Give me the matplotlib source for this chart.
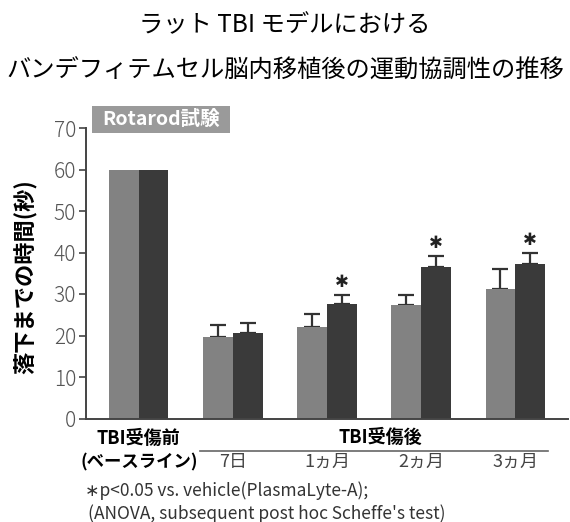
import matplotlib
matplotlib.use("Agg")
import matplotlib.pyplot as plt
from matplotlib.patches import Rectangle
import numpy as np

plt.rcParams['font.family'] = ['Noto Sans CJK JP', 'DejaVu Sans']

groups = ["TBI受傷前\n(ベースライン)", "7日", "1ヵ月", "2ヵ月", "3ヵ月"]
vehicle = [60.0, 19.7, 22.0, 27.4, 31.2]
vehicle_err = [0, 2.8, 3.3, 2.3, 4.8]
treated = [60.0, 20.5, 27.7, 36.6, 37.3]
treated_err = [0, 2.6, 2.1, 2.6, 2.7]
significant = [False, False, True, True, True]
yticks = [0, 10, 20, 30, 40, 50, 60, 70]

W, H = 570, 522
fig = plt.figure(figsize=(W/100, H/100), dpi=100)
ax = fig.add_axes([86/W, 1-418.5/H, 482/W, (418.5-128)/H])

x = np.arange(len(groups))
bw = 0.315
light = "#828282"
dark = "#3a3a3a"
ax.bar(x - bw/2, vehicle, bw, color=light, zorder=2)
ax.bar(x + bw/2, treated, bw, color=dark, zorder=2)
for i in range(len(groups)):
    if vehicle_err[i] > 0:
        ax.errorbar(x[i] - bw/2, vehicle[i], yerr=[[0], [vehicle_err[i]]], fmt='none',
                    ecolor="#333333", elinewidth=1.6, capsize=5.8, capthick=1.6, zorder=1)
    if treated_err[i] > 0:
        ax.errorbar(x[i] + bw/2, treated[i], yerr=[[0], [treated_err[i]]], fmt='none',
                    ecolor="#333333", elinewidth=1.6, capsize=5.8, capthick=1.6, zorder=1)
    if significant[i]:
        ax.text(x[i] + bw/2, treated[i] + treated_err[i] + 3.0, "✱", ha='center', va='center',
                fontsize=12, color="#222222", family='DejaVu Sans')

ax.set_xlim(-0.56, 4.56)
ax.set_ylim(0, 70)
ax.set_yticks(yticks)
ax.set_yticklabels([str(v) for v in yticks], fontsize=15, color="#555555", fontweight='light')
ax.tick_params(axis='y', length=5, width=1.2, color="#444444", pad=2)
ax.set_xticks([])
for s in ['top', 'right']:
    ax.spines[s].set_visible(False)
ax.spines['left'].set_color("#444444")
ax.spines['bottom'].set_color("#444444")
ax.spines['left'].set_linewidth(1.4)
ax.spines['bottom'].set_linewidth(1.4)

ax.set_ylabel("落下までの時間(秒)", fontsize=16, fontweight='bold')
ax.yaxis.set_label_coords(-0.10, 0.49)

def fy(py):
    return 1 - py / H
def dx(i):
    return (86 + (i + 0.56) * 94.2) / W

fig.text(dx(0), fy(438), "TBI受傷前", ha='center', va='center', fontsize=13, fontweight='bold')
fig.text(dx(0), fy(462), "(ベースライン)", ha='center', va='center', fontsize=12.5, fontweight='bold')
for i in range(1, len(groups)):
    fig.text(dx(i), fy(462), groups[i], ha='center', va='center', fontsize=13, color="#444444")
fig.text(380/W, fy(437), "TBI受傷後", ha='center', va='center', fontsize=13, fontweight='bold')
fig.add_artist(plt.Line2D([200/W, 548/W], [fy(451), fy(451)], color="#666666", lw=1.2))

fig.text(85/W, fy(491), "∗p<0.05 vs. vehicle(PlasmaLyte-A);", ha='left', va='center', fontsize=12.5, color="#333333")
fig.text(88/W, fy(514), "(ANOVA, subsequent post hoc Scheffe's test)", ha='left', va='center', fontsize=12.5, color="#333333")

fig.add_artist(Rectangle((92/W, fy(133)), (230-92)/W, 27/H, transform=fig.transFigure,
                         facecolor="#9a9a9a", edgecolor='none'))
fig.text(161/W, fy(119.5), "Rotarod試験", ha='center', va='center', fontsize=14, fontweight='bold',
         color='white')

fig.text(0.5, fy(25), "ラット TBI モデルにおける", ha='center', va='center', fontsize=17.5)
fig.text(0.5, fy(71), "バンデフィテムセル脳内移植後の運動協調性の推移", ha='center', va='center', fontsize=17.5)

fig.savefig("out.png", dpi=100)
